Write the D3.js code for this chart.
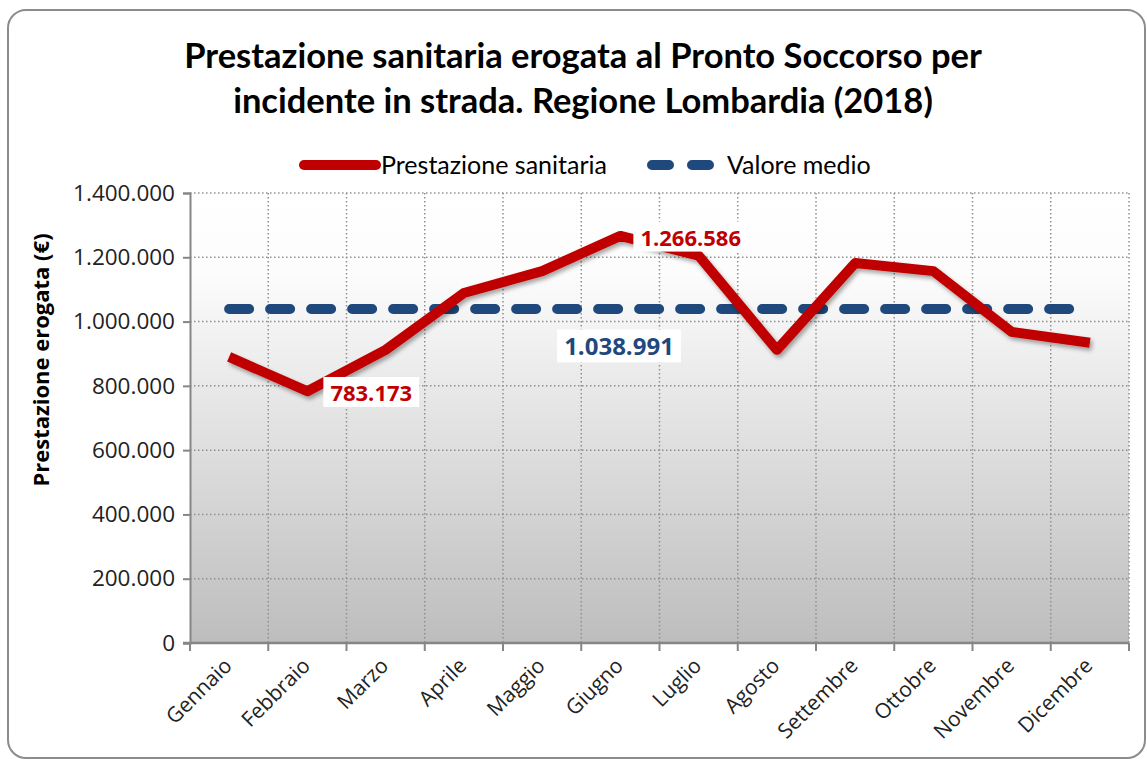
<!DOCTYPE html>
<html>
  <head>
    <meta charset="utf-8">
    <script src="https://d3js.org/d3.v7.min.js"></script>
    <style>
      body { margin: 0; background: #fff; }
    </style>
  </head>
  <body>
    <div id="chart"></div>
    <script>
      const months = ['Gennaio', 'Febbraio', 'Marzo', 'Aprile', 'Maggio', 'Giugno',
        'Luglio', 'Agosto', 'Settembre', 'Ottobre', 'Novembre', 'Dicembre'];
      const prestazione = [890000, 783173, 912000, 1089000, 1157000, 1266586,
        1205000, 912000, 1182000, 1157000, 968000, 934000];
      const valoreMedio = 1038991;
      const yTicks = [0, 200000, 400000, 600000, 800000, 1000000, 1200000, 1400000];
      const titleLines = ['Prestazione sanitaria erogata al Pronto Soccorso per',
        'incidente in strada. Regione Lombardia (2018)'];

      const W = 1147, H = 762;
      const red = '#c00000', blue = '#1f497d';
      const fmt = d3.formatLocale({ decimal: ',', thousands: '.', grouping: [3], currency: ['', '€'] }).format(',d');
      const sans = '"Open Sans", "Noto Sans", sans-serif';

      const svg = d3.select('#chart').append('svg')
        .attr('width', W).attr('height', H);

      const defs = svg.append('defs');
      const grad = defs.append('linearGradient')
        .attr('id', 'bg').attr('x1', 0).attr('y1', 0).attr('x2', 0).attr('y2', 1);
      grad.append('stop').attr('offset', '0%').attr('stop-color', '#ffffff');
      grad.append('stop').attr('offset', '18%').attr('stop-color', '#fcfcfc');
      grad.append('stop').attr('offset', '100%').attr('stop-color', '#bdbdbd');

      const shadow = defs.append('filter').attr('id', 'shadow')
        .attr('x', '-10%').attr('y', '-20%').attr('width', '120%').attr('height', '140%');
      shadow.append('feDropShadow')
        .attr('dx', 2).attr('dy', 3).attr('stdDeviation', 2)
        .attr('flood-color', '#000').attr('flood-opacity', 0.35);

      // outer frame
      svg.append('rect')
        .attr('x', 8).attr('y', 10).attr('width', 1137).attr('height', 748)
        .attr('rx', 18).attr('fill', '#fff')
        .attr('stroke', '#8c8c8c').attr('stroke-width', 2);

      // title
      svg.append('text')
        .attr('x', 583).attr('y', 68)
        .attr('text-anchor', 'middle')
        .style('font-family', 'Lato, sans-serif').style('font-weight', 'bold')
        .style('font-size', '34.5px').attr('fill', '#000')
        .selectAll('tspan').data(titleLines).join('tspan')
        .attr('x', 583).attr('dy', (d, i) => i ? 45 : 0)
        .text(d => d);

      const pLeft = 190, pRight = 1129, pTop = 193, pBottom = 643;

      const x = d3.scaleBand().domain(months).range([pLeft, pRight]).padding(0);
      const cx = d => x(d) + x.bandwidth() / 2;
      const y = d3.scaleLinear().domain([0, 1400000]).range([pBottom, pTop]);

      // plot area
      svg.append('rect')
        .attr('x', pLeft).attr('y', pTop)
        .attr('width', pRight - pLeft).attr('height', pBottom - pTop)
        .attr('fill', 'url(#bg)');

      // gridlines
      const grid = svg.append('g')
        .attr('stroke', '#909090').attr('stroke-width', 1.5)
        .attr('stroke-dasharray', '1.5,2.5');
      grid.selectAll('.hg').data(yTicks.filter(d => d > 0)).join('line')
        .attr('x1', pLeft).attr('x2', pRight)
        .attr('y1', d => y(d)).attr('y2', d => y(d));
      grid.selectAll('.vg').data(months).join('line')
        .attr('x1', d => x(d) + x.bandwidth()).attr('x2', d => x(d) + x.bandwidth())
        .attr('y1', pTop).attr('y2', pBottom);

      // y axis
      const yAxis = svg.append('g')
        .attr('transform', `translate(${pLeft},0)`)
        .call(d3.axisLeft(y).tickValues(yTicks).tickSize(7).tickPadding(8).tickFormat(fmt));
      yAxis.select('.domain').attr('stroke', '#868686').attr('stroke-width', 2);
      yAxis.selectAll('.tick line').attr('stroke', '#868686').attr('stroke-width', 2);
      yAxis.selectAll('.tick text')
        .style('font-family', sans).style('font-size', '22.5px')
        .attr('fill', '#222');

      // x axis
      const xAxis = svg.append('g')
        .attr('transform', `translate(0,${pBottom})`);
      xAxis.append('line')
        .attr('x1', pLeft - 7).attr('x2', pRight)
        .attr('stroke', '#868686').attr('stroke-width', 2.5);
      xAxis.selectAll('.xt').data([pLeft].concat(months.map(d => x(d) + x.bandwidth()))).join('line')
        .attr('x1', d => d).attr('x2', d => d)
        .attr('y1', 0).attr('y2', 8)
        .attr('stroke', '#868686').attr('stroke-width', 2);
      xAxis.selectAll('text').data(months).join('text')
        .attr('transform', d => `translate(${cx(d) + 4},${24}) rotate(-45)`)
        .attr('text-anchor', 'end')
        .style('font-family', sans).style('font-size', '21px')
        .attr('fill', '#222')
        .text(d => d);

      // y axis title
      svg.append('text')
        .attr('transform', `translate(49,360) rotate(-90)`)
        .attr('text-anchor', 'middle')
        .style('font-family', sans).style('font-weight', 'bold')
        .style('font-size', '22px').attr('fill', '#000')
        .text('Prestazione erogata (€)');

      // mean line
      svg.append('line')
        .attr('x1', cx(months[0])).attr('x2', cx(months[months.length - 1]))
        .attr('y1', y(valoreMedio)).attr('y2', y(valoreMedio))
        .attr('stroke', blue).attr('stroke-width', 10)
        .attr('stroke-linecap', 'round').attr('stroke-dasharray', '20,21');

      // main line
      const line = d3.line().x((d, i) => cx(months[i])).y(d => y(d));
      svg.append('path')
        .datum(prestazione)
        .attr('d', line)
        .attr('fill', 'none').attr('stroke', red).attr('stroke-width', 10)
        .attr('stroke-linejoin', 'round')
        .attr('filter', 'url(#shadow)');

      // data labels
      const labels = [
        { i: 1, v: prestazione[1], dx: 23, dy: 2, color: red, size: 22 },
        { i: 5, v: prestazione[5], dx: 20, dy: 2, color: red, size: 22 },
        { i: 4, v: valoreMedio, dx: 22, dy: 38, color: blue, size: 24 }
      ];
      labels.forEach(l => {
        const g = svg.append('g');
        const yy = y(l.v) + l.dy;
        const t = g.append('text')
          .attr('x', cx(months[l.i]) + l.dx).attr('y', yy)
          .attr('dy', '0.35em')
          .style('font-family', sans).style('font-weight', 'bold')
          .style('font-size', l.size + 'px').attr('fill', l.color)
          .text(fmt(l.v));
        const bb = t.node().getBBox();
        g.insert('rect', 'text')
          .attr('x', bb.x - 7).attr('y', bb.y)
          .attr('width', bb.width + 14).attr('height', bb.height)
          .attr('fill', '#fff');
      });

      // legend
      const lg = svg.append('g');
      lg.append('line').attr('x1', 304).attr('x2', 376).attr('y1', 165).attr('y2', 165)
        .attr('stroke', red).attr('stroke-width', 10).attr('stroke-linecap', 'round');
      lg.append('text').attr('x', 381).attr('y', 165).attr('dy', '0.35em')
        .style('font-family', 'Lato, sans-serif').style('font-size', '25px')
        .text('Prestazione sanitaria');
      lg.append('line').attr('x1', 652).attr('x2', 710).attr('y1', 165).attr('y2', 165)
        .attr('stroke', blue).attr('stroke-width', 10).attr('stroke-linecap', 'round')
        .attr('stroke-dasharray', '17,23');
      lg.append('text').attr('x', 727).attr('y', 165).attr('dy', '0.35em')
        .style('font-family', 'Lato, sans-serif').style('font-size', '25px')
        .text('Valore medio');
    </script>
  </body>
</html>
